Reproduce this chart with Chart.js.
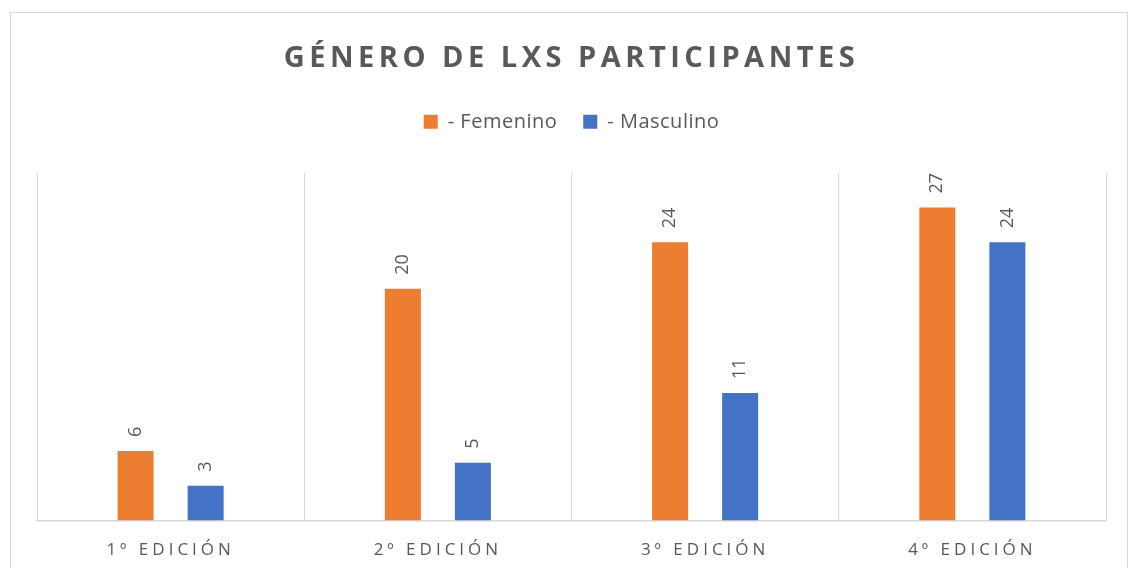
<!DOCTYPE html>
<html>
<head>
<meta charset="utf-8">
<script src="https://cdn.jsdelivr.net/npm/chart.js@4/dist/chart.umd.min.js"></script>
<style>
  body { margin: 0; background: #fff; overflow: hidden; }
  #frame { position: absolute; left: 10px; top: 12px; width: 1118px; height: 600px; border: 1px solid #d9d9d9; box-sizing: border-box; }
  #wrap { position: absolute; left: 0; top: 0; width: 1130px; height: 568px; overflow: hidden; }
</style>
</head>
<body>
<div id="frame"></div>
<div id="wrap"><canvas id="chart" width="1130" height="582"></canvas></div>
<script>
const categories = ['1º EDICIÓN', '2º EDICIÓN', '3º EDICIÓN', '4º EDICIÓN']
const femenino = [6, 20, 24, 27]
const masculino = [3, 5, 11, 24]
const seriesNames = ['- Femenino', '- Masculino']

const textColor = '#595959'
const gridColor = '#d9d9d9'
const fontFamily = "'Open Sans', sans-serif"

// runs a method of a chart box with canvas letter spacing
function spaced(obj, method, spacing) {
    if (!obj || obj['_spaced_' + method]) return
    const orig = obj[method].bind(obj)
    obj[method] = function (...args) {
        const ctx = this.ctx
        ctx.save()
        ctx.letterSpacing = spacing
        const r = orig(...args)
        ctx.restore()
        return r
    }
    obj['_spaced_' + method] = true
}

const spacingPlugin = {
    id: 'spacing',
    beforeUpdate(chart) {
        spaced(chart.titleBlock, 'draw', '4.5px')
        spaced(chart.legend, 'draw', '0.5px')
        if (!chart.legend._extraSpace) {
            const fit = chart.legend.fit.bind(chart.legend)
            chart.legend.fit = function () {
                const ctx = this.ctx
                ctx.save()
                ctx.letterSpacing = '0.5px'
                fit()
                ctx.restore()
                this.height += 31  // gap between legend and plot
            }
            chart.legend._extraSpace = true
        }
    },
    beforeDraw(chart) {
        spaced(chart.scales.x, 'drawLabels', '4px')
    }
}

// value labels rotated above each bar
const barLabels = {
    id: 'barLabels',
    afterDatasetsDraw(chart) {
        const ctx = chart.ctx
        chart.data.datasets.forEach((ds, i) => {
            chart.getDatasetMeta(i).data.forEach((bar, j) => {
                ctx.save()
                ctx.translate(bar.x, bar.y - 14)
                ctx.rotate(-Math.PI / 2)
                ctx.font = '18px ' + fontFamily
                ctx.fillStyle = textColor
                ctx.textAlign = 'left'
                ctx.textBaseline = 'middle'
                ctx.fillText(String(ds.data[j]), 0, 0)
                ctx.restore()
            })
        })
    }
}

new Chart(document.getElementById('chart'), {
    type: 'bar',
    data: {
        labels: categories,
        datasets: [
            {label: seriesNames[0], data: femenino, backgroundColor: '#ED7D31'},
            {label: seriesNames[1], data: masculino, backgroundColor: '#4472C4'}
        ]
    },
    options: {
        responsive: false,
        animation: false,
        categoryPercentage: 0.524,
        barPercentage: 0.514,
        layout: {padding: {left: 37, right: 24, top: 20, bottom: 3}},
        plugins: {
            title: {
                display: true,
                text: 'GÉNERO DE LXS PARTICIPANTES',
                color: textColor,
                font: {family: fontFamily, size: 29, weight: 'bold'},
                padding: {top: 21, bottom: 10}
            },
            legend: {
                display: true,
                position: 'top',
                labels: {
                    color: textColor,
                    font: {family: fontFamily, size: 20},
                    boxWidth: 14,
                    boxHeight: 14,
                    padding: 26
                }
            },
            tooltip: {enabled: false}
        },
        scales: {
            x: {
                grid: {color: gridColor, lineWidth: 1, offset: true, drawTicks: false},
                border: {color: gridColor, width: 1.5},
                ticks: {color: textColor, font: {family: fontFamily, size: 17}, padding: 19}
            },
            y: {display: false, min: 0, max: 30}
        }
    },
    plugins: [spacingPlugin, barLabels]
})
</script>
</body>
</html>
